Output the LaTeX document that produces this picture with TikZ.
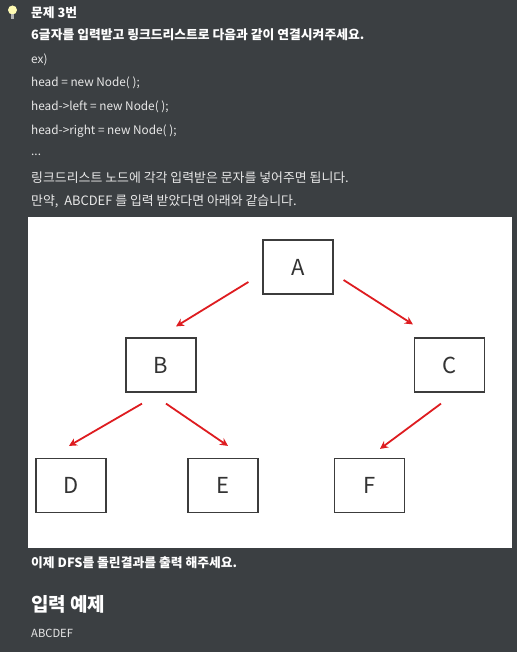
\documentclass[tikz,border=0pt]{standalone}
\usepackage{fontspec}
\setmainfont{Noto Sans CJK KR}
\usepackage{tikz}
\usetikzlibrary{calc, arrows.meta}
\definecolor{pagebg}{RGB}{59,63,66}
\definecolor{pagetext}{RGB}{232,232,232}
\definecolor{linkred}{RGB}{222,28,32}
\definecolor{boxline}{RGB}{60,60,60}
\tikzstyle{line} = [
    anchor = west,
    text = pagetext,
    font = \fontsize{11.8}{14}\selectfont,
    inner sep = 0
]
\tikzstyle{hangul} = [
    line,
    font = \fontsize{12.9}{15}\selectfont
]
\tikzstyle{title} = [
    line,
    text = white,
    font = \fontsize{12.8}{15}\selectfont\bfseries
]
\tikzstyle{treenode} = [
    rectangle,
    draw = boxline,
    line width = 1.2pt,
    minimum width = 70pt,
    minimum height = 54pt,
    inner sep = 0,
    text = black!80,
    font = \fontsize{22}{24}\selectfont
]
\tikzstyle{link} = [
    draw = linkred,
    line width = 1.8pt,
    -{Stealth[length = 8pt, width = 8pt]}
]

\begin{document}
\begin{tikzpicture}[x = 1pt, y = -1pt]
    \fill[pagebg] (0,0) rectangle (517,652);
    \useasboundingbox (0,0) rectangle (517,652);
    % bulb
    \fill[yellow!30!white] (12.5,10) circle (4.5);
    \fill[gray!60] (10.8,14.5) rectangle (14.2,19);
    \node[title] (head) at (31,13) {문제 3번};
    \node[title] (task) at (31,35) {6글자를 입력받고 링크드리스트로 다음과 같이 연결시켜주세요.};
    \node[line] (ex) at (31,60) {ex)};
    \node[line] (code1) at (31,83) {head = new Node( );};
    \node[line] (code2) at (31,107) {head->left = new Node( );};
    \node[line] (code3) at (31,131) {head->right = new Node( );};
    \node[line] (dots) at (31,155) {...};
    \node[hangul] (note1) at (31,178) {링크드리스트 노드에 각각 입력받은 문자를 넣어주면 됩니다.};
    \node[hangul] (note2) at (31,201) {만약,\ \ ABCDEF 를 입력 받았다면 아래와 같습니다.};
    % tree panel
    \fill[white] (28,217) rectangle (512,548);
    \node[treenode] (A) at (298,267) {A};
    \node[treenode] (B) at (161,365) {B};
    \node[treenode] (C) at (449.5,365) {C};
    \node[treenode] (D) at (71,485.5) {D};
    \node[treenode] (E) at (223,485.5) {E};
    \node[treenode] (F) at (369.5,485.5) {F};
    \draw[link] ($(A.west)+(-14,15)$) -- ($(B.north)+(15,-11)$);
    \draw[link] ($(A.east)+(10,13)$) -- ($(C.north west)+(-1,-13)$);
    \draw[link] ($(B.south)+(-19,11)$) -- ($(D.north)+(-2,-12)$);
    \draw[link] ($(B.south)+(5,11)$) -- ($(E.north)+(5,-12)$);
    \draw[link] ($(C.south)+(-8.5,11)$) -- ($(F.north)+(10.5,-9)$);
    \node[title] (dfs) at (31,563) {이제 DFS를 돌린결과를 출력 해주세요.};
    \node[title, font = \fontsize{19}{22}\selectfont\bfseries] (inhead) at (31,604) {입력 예제};
    \node[line, font = \fontsize{11.2}{13}\selectfont] (input) at (31,633) {ABCDEF};
\end{tikzpicture}
\end{document}
